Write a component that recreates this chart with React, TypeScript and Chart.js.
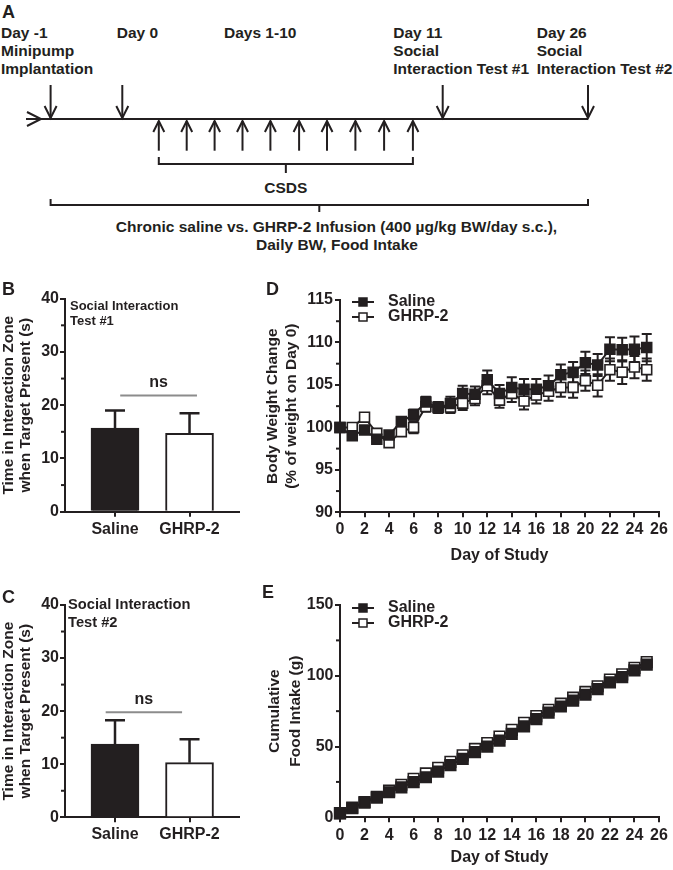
import React, { useEffect, useRef } from 'react';
import { Chart, registerables } from 'chart.js';

Chart.register(...registerables);

const FONT = '"Liberation Sans", Arial, Helvetica, sans-serif';
const INK = '#231f20';
const NS_GREY = '#8c8c8c';

Chart.defaults.font.family = FONT;
Chart.defaults.font.weight = 'bold' as any;
Chart.defaults.color = INK;

// ---------------- Data ----------------
const categories = ['Saline', 'GHRP-2'];
const test1Mean = [15.7, 14.7];
const test1Sem = [3.3, 3.8];
const test2Mean = [13.8, 10.3];
const test2Sem = [4.5, 4.4];
const barTicks = [0, 10, 20, 30, 40];
const barMinorTicks = [5, 15, 25, 35];
const test1NsSpan = [1.07, 2.1];
const test1NsLevel = 21.8;
const test2NsSpan = [0.875, 1.9];
const test2NsLevel = 19.8;

const seriesNames = ['Saline', 'GHRP-2'];
const days = [0, 1, 2, 3, 4, 5, 6, 7, 8, 9, 10, 11, 12, 13, 14, 15, 16, 17, 18, 19, 20, 21, 22, 23, 24, 25];
const dayTicks = [0, 2, 4, 6, 8, 10, 12, 14, 16, 18, 20, 22, 24, 26];

const salineBW = [100, 99.0, 99.7, 98.6, 99.1, 100.7, 101.5, 103.0, 102.3, 102.8, 104.0, 103.9, 105.6, 104.0, 104.7, 104.5, 104.5, 104.9, 106.2, 106.5, 107.6, 107.35, 109.2, 109.15, 109.2, 109.4];
const ghrpBW = [100, 100, 101.2, 99.3, 98.2, 99.5, 100.0, 102.45, 102.4, 102.4, 102.85, 103.4, 104.9, 103.2, 104.0, 103.1, 103.8, 104.25, 104.7, 104.7, 105.5, 104.95, 106.8, 106.5, 107.1, 106.8];
const salineBWSem = [0, 0.3, 0.4, 0.3, 0.4, 0.5, 0.6, 0.6, 0.6, 0.8, 0.9, 0.9, 1.1, 1.0, 1.2, 1.2, 1.2, 1.2, 1.2, 1.2, 1.3, 1.3, 1.4, 1.4, 1.5, 1.6];
const ghrpBWSem = [0, 0.3, 0.5, 0.4, 0.4, 0.5, 0.7, 0.6, 0.6, 0.7, 0.8, 0.8, 1.0, 0.9, 1.0, 1.0, 1.0, 1.1, 1.1, 1.2, 1.2, 1.3, 1.3, 1.4, 1.3, 1.3];
const bwTicks = [90, 95, 100, 105, 110, 115];
const bwMinorTicks = [92.5, 97.5, 102.5, 107.5, 112.5];

const salineFood = [2.8, 6.4, 10.4, 13.9, 17.7, 21.2, 24.8, 28.3, 32.3, 36.8, 41.3, 46.0, 50.0, 54.2, 59.0, 64.2, 69.3, 74.0, 78.3, 82.5, 86.6, 90.6, 95.3, 99.0, 103.8, 107.8];
const ghrpFood = [3.0, 6.8, 10.8, 14.5, 18.8, 23.0, 27.2, 31.0, 35.0, 39.2, 43.8, 48.3, 52.5, 57.0, 61.8, 66.8, 71.5, 76.0, 80.3, 84.5, 88.6, 92.6, 97.3, 101.0, 105.6, 109.7];
const foodTicks = [0, 50, 100, 150];
const foodMinorTicks = [25, 75, 125];

// Timeline (panel A) text
const eventLabels = [
  { x: 1, lines: ['Day -1', 'Minipump', 'Implantation'] },
  { x: 116.7, lines: ['Day 0'] },
  { x: 224, lines: ['Days 1-10'] },
  { x: 393.3, lines: ['Day 11', 'Social', 'Interaction Test #1'] },
  { x: 536.7, lines: ['Day 26', 'Social', 'Interaction Test #2'] },
];
const infusionText = ['Chronic saline vs. GHRP-2 Infusion (400 µg/kg BW/day s.c.),', 'Daily BW, Food Intake'];

// ---------------- Chart factories ----------------
const tickFont = { size: 16, weight: 'bold' as any };

function makeBarConfig(
  means: number[], sems: number[], nsSpan: number[], nsLevel: number,
  padTop: number, xAxisH: number, nsTextGap: number, xTickPad: number
): any {
  const extras = {
    id: 'barExtras',
    afterDatasetsDraw(chart: any) {
      const { ctx, chartArea } = chart;
      const x = chart.scales.x, y = chart.scales.y;
      ctx.save();
      ctx.strokeStyle = INK;
      ctx.lineWidth = 2.5;
      chart.getDatasetMeta(0).data.forEach((bar: any, i: number) => {
        const y0 = y.getPixelForValue(means[i]);
        const y1 = y.getPixelForValue(means[i] + sems[i]);
        ctx.beginPath();
        ctx.moveTo(bar.x, y0);
        ctx.lineTo(bar.x, y1);
        ctx.moveTo(bar.x - 10, y1);
        ctx.lineTo(bar.x + 10, y1);
        ctx.stroke();
      });
      const ly = y.getPixelForValue(nsLevel);
      const lx0 = x.getPixelForValue(nsSpan[0]);
      const lx1 = x.getPixelForValue(nsSpan[1]);
      ctx.strokeStyle = NS_GREY;
      ctx.lineWidth = 2;
      ctx.beginPath();
      ctx.moveTo(lx0, ly);
      ctx.lineTo(lx1, ly);
      ctx.stroke();
      ctx.fillStyle = INK;
      ctx.font = `bold 16px ${FONT}`;
      ctx.textAlign = 'center';
      ctx.textBaseline = 'alphabetic';
      ctx.fillText('ns', (lx0 + lx1) / 2, ly - nsTextGap);
      ctx.strokeStyle = INK;
      ctx.lineWidth = 2;
      barMinorTicks.forEach((v) => {
        const py = y.getPixelForValue(v);
        ctx.beginPath();
        ctx.moveTo(chartArea.left - 4, py);
        ctx.lineTo(chartArea.left, py);
        ctx.stroke();
      });
      ctx.restore();
    },
  };
  return {
    type: 'bar',
    data: {
      datasets: [
        {
          data: categories.map((c, i) => ({ x: i + 1, y: means[i] })),
          backgroundColor: [INK, '#ffffff'],
          borderColor: INK,
          borderWidth: 2,
          barThickness: 48,
        },
      ],
    },
    options: {
      responsive: false,
      animation: false,
      events: [],
      layout: { padding: { top: padTop, right: 21, left: 0, bottom: 0 } },
      plugins: { legend: { display: false }, tooltip: { enabled: false } },
      scales: {
        x: {
          type: 'linear',
          min: 0.329,
          max: 2.664,
          offset: false,
          afterBuildTicks: (sc: any) => {
            sc.ticks = categories.map((c, i) => ({ value: i + 1 }));
          },
          ticks: {
            color: INK,
            font: tickFont,
            padding: xTickPad,
            autoSkip: false,
            maxRotation: 0,
            callback: (v: number) => categories[Math.round(v) - 1] ?? '',
          },
          grid: { drawOnChartArea: false, color: INK, lineWidth: 2, tickLength: 5, offset: false },
          border: { color: INK, width: 2 },
          afterFit: (sc: any) => {
            sc.height = xAxisH;
          },
        },
        y: {
          type: 'linear',
          min: 0,
          max: 40,
          afterBuildTicks: (sc: any) => {
            sc.ticks = barTicks.map((v) => ({ value: v }));
          },
          ticks: { color: INK, font: tickFont, padding: 1, callback: (v: number) => String(v) },
          grid: { drawOnChartArea: false, color: INK, lineWidth: 2, tickLength: 5 },
          border: { color: INK, width: 2 },
          title: {
            display: true,
            text: ['Time in Interaction Zone', 'when Target Present (s)'],
            color: INK,
            font: { size: 15.5, weight: 'bold', lineHeight: 17 / 15.5 },
            padding: { top: 0.5, bottom: 0 },
          },
          afterFit: (sc: any) => {
            sc.width = 65;
          },
        },
      },
    },
    plugins: [extras],
  };
}

type LineSpec = {
  values: number[][];
  sems: number[][] | null;
  yMin: number;
  yMax: number;
  yTicks: number[];
  yMinor: number[];
  yTitle: string[];
  yTitleLH: number;
  yTitlePad: number;
  legendDy: number[];
  radius: number;
  xTitlePad: number;
  xTickPad: number;
  xAxisH: number;
  yTickPad: number;
};

function makeLineConfig(s: LineSpec): any {
  const fills = [INK, '#ffffff'];
  const datasets = seriesNames.map((name, k) => ({
    label: name,
    data: days.map((d, i) => ({ x: d, y: s.values[k][i] })),
    borderColor: INK,
    borderWidth: 2,
    pointStyle: 'rect',
    pointRadius: s.radius,
    pointHoverRadius: s.radius,
    pointBorderWidth: 1.6,
    pointBackgroundColor: fills[k],
    pointBorderColor: INK,
    tension: 0,
    clip: false,
  }));
  const extras = {
    id: 'lineExtras',
    beforeDatasetsDraw(chart: any) {
      if (!s.sems) return;
      const { ctx } = chart;
      const x = chart.scales.x, y = chart.scales.y;
      ctx.save();
      ctx.strokeStyle = INK;
      ctx.lineWidth = 2;
      s.values.forEach((vals, k) =>
        vals.forEach((v, i) => {
          const e = s.sems![k][i];
          if (!e) return;
          const px = x.getPixelForValue(days[i]);
          const y0 = y.getPixelForValue(v - e);
          const y1 = y.getPixelForValue(v + e);
          ctx.beginPath();
          ctx.moveTo(px, y0);
          ctx.lineTo(px, y1);
          ctx.moveTo(px - 5, y0);
          ctx.lineTo(px + 5, y0);
          ctx.moveTo(px - 5, y1);
          ctx.lineTo(px + 5, y1);
          ctx.stroke();
        })
      );
      ctx.restore();
    },
    afterDraw(chart: any) {
      const { ctx, chartArea } = chart;
      const y = chart.scales.y;
      ctx.save();
      ctx.strokeStyle = INK;
      ctx.lineWidth = 2;
      s.yMinor.forEach((v) => {
        const py = y.getPixelForValue(v);
        ctx.beginPath();
        ctx.moveTo(chartArea.left - 4, py);
        ctx.lineTo(chartArea.left, py);
        ctx.stroke();
      });
      seriesNames.forEach((name, k) => {
        const ly = chartArea.top + s.legendDy[k];
        const lx = chartArea.left;
        ctx.strokeStyle = INK;
        ctx.lineWidth = 2;
        ctx.beginPath();
        ctx.moveTo(lx + 12, ly);
        ctx.lineTo(lx + 34, ly);
        ctx.stroke();
        ctx.fillStyle = fills[k];
        ctx.lineWidth = 1.5;
        ctx.fillRect(lx + 19, ly - 4, 8, 8);
        ctx.strokeRect(lx + 19, ly - 4, 8, 8);
        ctx.fillStyle = INK;
        ctx.font = `bold 16px ${FONT}`;
        ctx.textAlign = 'left';
        ctx.textBaseline = 'middle';
        ctx.fillText(name, lx + 48, ly);
      });
      ctx.restore();
    },
  };
  return {
    type: 'line',
    data: { datasets },
    options: {
      responsive: false,
      animation: false,
      events: [],
      layout: { padding: { top: 20, right: 14, left: 0, bottom: 0 } },
      plugins: { legend: { display: false }, tooltip: { enabled: false } },
      scales: {
        x: {
          type: 'linear',
          min: 0,
          max: 26,
          afterBuildTicks: (sc: any) => {
            sc.ticks = dayTicks.map((v) => ({ value: v }));
          },
          ticks: { color: INK, font: tickFont, padding: s.xTickPad, autoSkip: false, maxRotation: 0, callback: (v: number) => String(v) },
          grid: { drawOnChartArea: false, color: INK, lineWidth: 2, tickLength: 5 },
          border: { color: INK, width: 2 },
          title: {
            display: true,
            text: 'Day of Study',
            color: INK,
            font: { size: 16, weight: 'bold', lineHeight: 18 / 16 },
            padding: { top: 0, bottom: s.xTitlePad },
          },
          afterFit: (sc: any) => {
            sc.height = s.xAxisH;
          },
        },
        y: {
          type: 'linear',
          min: s.yMin,
          max: s.yMax,
          afterBuildTicks: (sc: any) => {
            sc.ticks = s.yTicks.map((v) => ({ value: v }));
          },
          ticks: { color: INK, font: tickFont, padding: s.yTickPad, callback: (v: number) => String(v) },
          grid: { drawOnChartArea: false, color: INK, lineWidth: 2, tickLength: 5 },
          border: { color: INK, width: 2 },
          title: {
            display: true,
            text: s.yTitle,
            color: INK,
            font: { size: 15.5, weight: 'bold', lineHeight: s.yTitleLH / 15.5 },
            padding: { top: s.yTitlePad, bottom: 0 },
          },
          afterFit: (sc: any) => {
            sc.width = 80;
          },
        },
      },
    },
    plugins: [extras],
  };
}

// ---------------- Components ----------------
function ChartCanvas(props: { make: () => any; left: number; top: number; width: number; height: number }) {
  const ref = useRef<HTMLCanvasElement | null>(null);
  useEffect(() => {
    if (!ref.current) return;
    const chart = new Chart(ref.current, props.make());
    return () => chart.destroy();
  }, []);
  return (
    <canvas
      ref={ref}
      width={props.width}
      height={props.height}
      style={{ position: 'absolute', left: props.left, top: props.top, width: props.width, height: props.height }}
    />
  );
}

const downArrowX = [50.6, 122.3, 442.7, 588];
const upArrowX = [158.8, 186.7, 214.6, 242.5, 270.4, 299.1, 327, 355.4, 384.1, 412.9];
const rowBaselines = [38.3, 56.2, 74.2];

function Timeline() {
  return (
    <svg width={673} height={262} style={{ position: 'absolute', left: 0, top: 0 }}>
      <g stroke={INK} strokeWidth={2} fill="none" strokeLinecap="butt">
        <path d="M26,119 H588" />
        <path d="M27,112 L41,119 L27,126" />
        {downArrowX.map((x, i) => (
          <g key={'d' + i}>
            <path d={`M${x},85 V118`} />
            <path d={`M${x - 6},106 L${x},118 L${x + 6},106`} />
          </g>
        ))}
        {upArrowX.map((x, i) => (
          <g key={'u' + i}>
            <path d={`M${x},121 V150.7`} />
            <path d={`M${x - 5.5},132 L${x},121 L${x + 5.5},132`} />
          </g>
        ))}
        <path d={`M${upArrowX[0]},157 V164 H${upArrowX[9]} V157`} />
        <path d={`M${(upArrowX[0] + upArrowX[9]) / 2},164 V173`} />
        <path d={`M${downArrowX[0]},199 V205 H${downArrowX[3]} V199`} />
        <path d={`M${(downArrowX[0] + downArrowX[3]) / 2},205 V212`} />
      </g>
      <g fill={INK} fontFamily={FONT} fontWeight="bold" fontSize={15.5}>
        {eventLabels.map((ev, i) =>
          ev.lines.map((ln, j) => (
            <text key={i + '-' + j} x={ev.x} y={rowBaselines[j]}>
              {ln}
            </text>
          ))
        )}
        <text x={(upArrowX[0] + upArrowX[9]) / 2} y={192.7} textAnchor="middle">
          CSDS
        </text>
        <text x={336.5} y={232.3} textAnchor="middle">
          {infusionText[0]}
        </text>
        <text x={337} y={250} textAnchor="middle">
          {infusionText[1]}
        </text>
      </g>
    </svg>
  );
}

const panelLetters = [
  { t: 'A', x: 2, y: 2.7 },
  { t: 'B', x: 2, y: 279.7 },
  { t: 'C', x: 2, y: 587.7 },
  { t: 'D', x: 266, y: 279.7 },
  { t: 'E', x: 262, y: 582.7 },
];

export default function App() {
  const makeB = () => makeBarConfig(test1Mean, test1Sem, test1NsSpan, test1NsLevel, 18.7, 38.3, 9, 3);
  const makeC = () => makeBarConfig(test2Mean, test2Sem, test2NsSpan, test2NsLevel, 20, 52.7, 8, 3);
  const makeD = () =>
    makeLineConfig({
      values: [salineBW, ghrpBW],
      sems: [salineBWSem, ghrpBWSem],
      yMin: 90,
      yMax: 115,
      yTicks: bwTicks,
      yMinor: bwMinorTicks,
      yTitle: ['Body Weight Change', '(% of weight on Day 0)'],
      yTitleLH: 19,
      yTitlePad: 3,
      legendDy: [2, 17],
      radius: 7,
      xTitlePad: 5,
      xTickPad: 3,
      xAxisH: 57.7,
      yTickPad: 2,
    });
  const makeE = () =>
    makeLineConfig({
      values: [salineFood, ghrpFood],
      sems: null,
      yMin: 0,
      yMax: 150,
      yTicks: foodTicks,
      yMinor: foodMinorTicks,
      yTitle: ['Cumulative', 'Food Intake (g)'],
      yTitleLH: 21,
      yTitlePad: 4.5,
      legendDy: [3, 18],
      radius: 7.5,
      xTitlePad: 3,
      xTickPad: 4,
      xAxisH: 52.7,
      yTickPad: 1.5,
    });

  return (
    <div
      style={{
        position: 'absolute',
        left: 0,
        top: 0,
        width: 673,
        height: 870,
        background: '#ffffff',
        overflow: 'hidden',
        fontFamily: FONT,
        color: INK,
      }}
    >
      <Timeline />
      <ChartCanvas make={makeB} left={0} top={280} width={260} height={270} />
      <ChartCanvas make={makeC} left={0} top={585} width={260} height={285} />
      <ChartCanvas make={makeD} left={260} top={280} width={413} height={290} />
      <ChartCanvas make={makeE} left={260} top={585} width={413} height={285} />
      <div
        style={{ position: 'absolute', left: 70, top: 297.5, fontSize: 13, lineHeight: '15px', fontWeight: 'bold', whiteSpace: 'nowrap' }}
      >
        Social Interaction
        <br />
        Test #1
      </div>
      <div
        style={{ position: 'absolute', left: 68, top: 596.2, fontSize: 14.7, lineHeight: '17.5px', fontWeight: 'bold', whiteSpace: 'nowrap' }}
      >
        Social Interaction
        <br />
        Test #2
      </div>
      {panelLetters.map((p) => (
        <div
          key={p.t}
          style={{ position: 'absolute', left: p.x, top: p.y, fontSize: 18, lineHeight: '18px', fontWeight: 'bold' }}
        >
          {p.t}
        </div>
      ))}
    </div>
  );
}
